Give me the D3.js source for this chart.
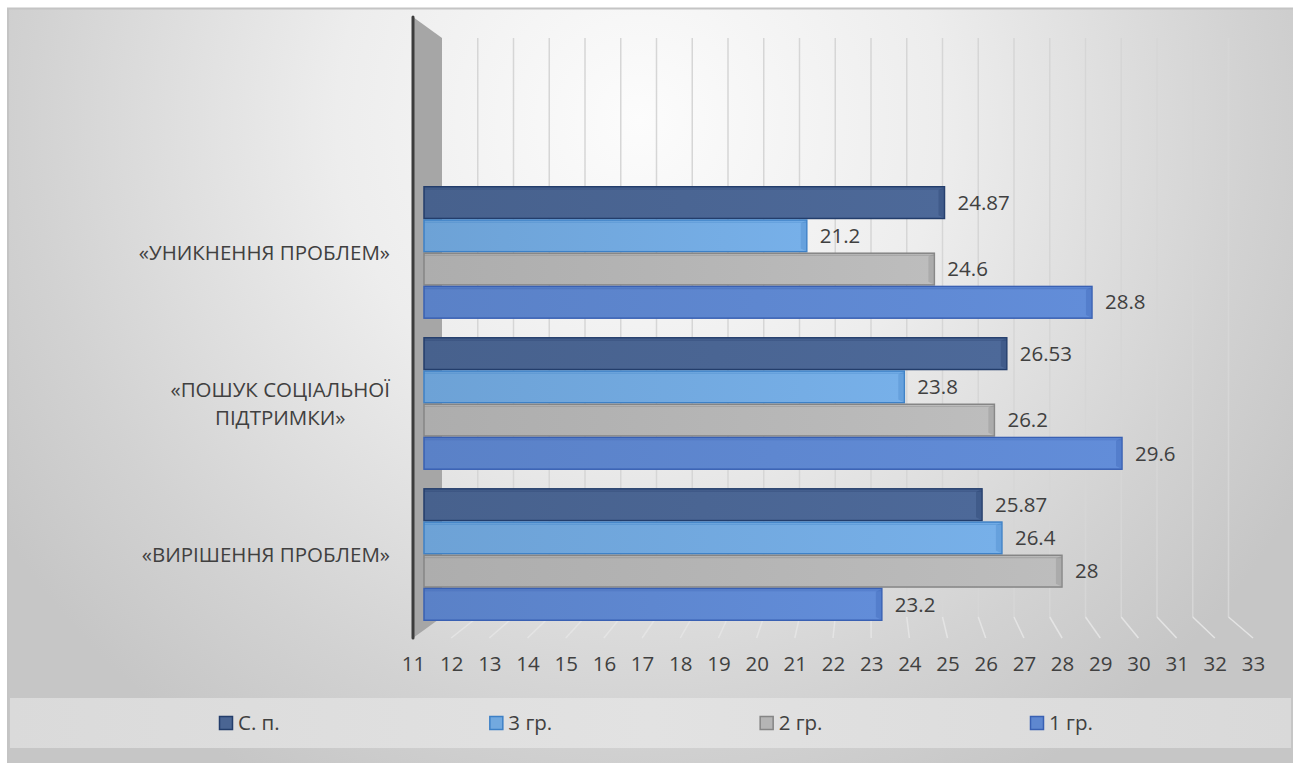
<!DOCTYPE html>
<html>
<head>
<meta charset="utf-8">
<script src="https://cdn.jsdelivr.net/npm/d3@7"></script>
<style>
  html, body { margin: 0; padding: 0; background: #ffffff; }
  svg { display: block; font-family: "Open Sans", "Noto Sans", sans-serif; }
</style>
</head>
<body>
<svg id="chart" width="1299" height="763"></svg>
<script>
// Coping strategy scales by group
const categories = ["«УНИКНЕННЯ ПРОБЛЕМ»", "«ПОШУК СОЦІАЛЬНОЇ ПІДТРИМКИ»", "«ВИРІШЕННЯ ПРОБЛЕМ»"];
const categoryLines = [["«УНИКНЕННЯ ПРОБЛЕМ»"], ["«ПОШУК СОЦІАЛЬНОЇ", "ПІДТРИМКИ»"], ["«ВИРІШЕННЯ ПРОБЛЕМ»"]];
const seriesNames = ["С. п.", "3 гр.", "2 гр.", "1 гр."];
const valuesSP = [24.87, 26.53, 25.87];
const values3 = [21.2, 23.8, 26.4];
const values2 = [24.6, 26.2, 28];
const values1 = [28.8, 29.6, 23.2];
const tickValues = d3.range(11, 34);

const seriesValues = [valuesSP, values3, values2, values1];
const fills = ["#4a6593", "#72a9df", "#b5b5b5", "#5e87d0"];
const sides = ["#334d7c", "#5592d2", "#9a9a9a", "#4670c0"];
const strokes = ["#233d6b", "#3d80c6", "#858585", "#3960b3"];
const FS = 20.5;

const svg = d3.select("#chart");
const W = 1299, H = 763;
const defs = svg.append("defs");

// background
const bg = defs.append("radialGradient").attr("id", "bg")
  .attr("gradientUnits", "userSpaceOnUse")
  .attr("cx", 640).attr("cy", 120).attr("r", 760);
bg.append("stop").attr("offset", "0%").attr("stop-color", "#fcfcfc");
bg.append("stop").attr("offset", "40%").attr("stop-color", "#ededed");
bg.append("stop").attr("offset", "80%").attr("stop-color", "#d2d2d2");
bg.append("stop").attr("offset", "100%").attr("stop-color", "#c6c6c6");
svg.append("rect").attr("x", 8).attr("y", 8).attr("width", 1285).attr("height", H - 8)
  .attr("fill", "url(#bg)");
svg.append("path").attr("d", `M8,${H} V8.5 H1293`).attr("fill", "none")
  .attr("stroke", "#c4c4c4").attr("stroke-width", 2);

// 3D frame geometry: front plane, back plane, bar plane
const frontTop = 17, frontBottom = 638, backTop = 38, backBottom = 617;
const xFront = d3.scaleLinear().domain([11, 33]).range([413, 1253]);
const xBack = d3.scaleLinear().domain([11, 33]).range([442, 1228.5]);
const xBar = d3.scaleLinear().domain([11, 29.6]).range([424, 1122]);

// side wall
svg.append("path")
  .attr("d", `M${xFront(11)},${frontTop} L${xBack(11)},${backTop} L${xBack(11)},${backBottom} L${xFront(11)},${frontBottom} Z`)
  .attr("fill", "#a6a6a6");

// gridlines: back wall verticals and floor diagonals
const grid = svg.append("g");
grid.selectAll("line.back").data(tickValues.slice(1)).join("line")
  .attr("class", "back")
  .attr("x1", d => xBack(d)).attr("x2", d => xBack(d))
  .attr("y1", backTop).attr("y2", backBottom)
  .attr("stroke", "#d6d6d6").attr("stroke-width", 1.5);
grid.selectAll("line.floor").data(tickValues.slice(1)).join("line")
  .attr("class", "floor")
  .attr("x1", d => xBack(d)).attr("x2", d => xFront(d))
  .attr("y1", backBottom).attr("y2", frontBottom)
  .attr("stroke", "#e4e4e4").attr("stroke-width", 1.5);

// wall edge
svg.append("line")
  .attr("x1", xFront(11)).attr("x2", xFront(11))
  .attr("y1", frontTop).attr("y2", frontBottom)
  .attr("stroke", "#3c3c3c").attr("stroke-width", 3).attr("stroke-linecap", "round");

// bars
const yCat = d3.scaleBand().domain(categories).range([186, 621]).paddingInner(0.12).paddingOuter(0);
const ySer = d3.scaleBand().domain(seriesNames).range([0, yCat.bandwidth()]);

const rows = [];
categories.forEach((c, ci) => {
  seriesNames.forEach((s, si) => {
    rows.push({ cat: c, ser: s, si, value: seriesValues[si][ci] });
  });
});

fills.forEach((f, i) => {
  const g = defs.append("linearGradient").attr("id", "bar" + i)
    .attr("x1", 0).attr("y1", 0).attr("x2", 1).attr("y2", 0);
  g.append("stop").attr("offset", "0%").attr("stop-color", d3.color(f).darker(0.12));
  g.append("stop").attr("offset", "100%").attr("stop-color", d3.color(f).brighter(0.12));
});

const bars = svg.append("g").selectAll("g").data(rows).join("g")
  .attr("transform", d => `translate(0,${yCat(d.cat) + ySer(d.ser)})`);
const bh = ySer.bandwidth();
bars.append("rect")
  .attr("x", xBar(11)).attr("y", 0.75)
  .attr("width", d => xBar(d.value) - xBar(11)).attr("height", bh - 1.5)
  .attr("fill", d => `url(#bar${d.si})`)
  .attr("stroke", d => strokes[d.si]).attr("stroke-width", 1.5);
// end cap of each bar
bars.append("path")
  .attr("d", d => {
    const x1 = xBar(d.value);
    return `M${x1 - 6},${4} L${x1},${1} L${x1},${bh - 1} L${x1 - 6},${bh - 4} Z`;
  })
  .attr("fill", d => sides[d.si]).attr("opacity", 0.5);
// top edge
bars.append("line")
  .attr("x1", xBar(11)).attr("x2", d => xBar(d.value))
  .attr("y1", 3).attr("y2", 3)
  .attr("stroke", d => strokes[d.si]).attr("stroke-opacity", 0.35).attr("stroke-width", 1.2);

// value labels
bars.append("text")
  .attr("x", d => xBar(d.value) + 13).attr("y", bh / 2)
  .attr("dy", "0.35em")
  .attr("fill", "#404040").attr("font-size", FS)
  .text(d => d.value);

// category labels (multi-line labels centred within their block)
const catG = svg.append("g");
categories.forEach((c, ci) => {
  const lines = categoryLines[ci];
  const cy = yCat(c) + yCat.bandwidth() / 2;
  const lh = 28;
  const t = catG.append("text").attr("fill", "#404040").attr("font-size", FS)
    .attr("text-anchor", "middle");
  const spans = lines.map((ln, li) => t.append("tspan")
    .attr("y", cy + (li - (lines.length - 1) / 2) * lh).attr("dy", "0.35em").text(ln));
  const maxW = d3.max(spans, s => s.node().getComputedTextLength());
  spans.forEach(s => s.attr("x", 390 - maxW / 2));
});

// value axis
const axis = d3.axisBottom(xFront).tickValues(tickValues).tickSize(0).tickPadding(0).tickFormat(d3.format("d"));
const axG = svg.append("g").attr("transform", `translate(0,656)`).call(axis);
axG.select(".domain").remove();
axG.selectAll("text").attr("font-size", FS).attr("fill", "#404040")
  .attr("font-family", "'Open Sans', 'Noto Sans', sans-serif");

// legend band
const lgGrad = defs.append("linearGradient").attr("id", "lg")
  .attr("x1", 0).attr("y1", 0).attr("x2", 1).attr("y2", 0);
lgGrad.append("stop").attr("offset", "0%").attr("stop-color", "#dadada");
lgGrad.append("stop").attr("offset", "50%").attr("stop-color", "#e2e2e2");
lgGrad.append("stop").attr("offset", "100%").attr("stop-color", "#d9d9d9");
svg.append("rect").attr("x", 10).attr("y", 698).attr("width", 1281).attr("height", 50)
  .attr("fill", "url(#lg)");

const legendX = d3.scalePoint().domain(seriesNames).range([219, 1030]);
const lg = svg.append("g").selectAll("g").data(seriesNames).join("g")
  .attr("transform", d => `translate(${legendX(d)},723)`);
lg.append("rect").attr("x", 0.5).attr("y", -6.5).attr("width", 13).attr("height", 13)
  .attr("fill", (d, i) => fills[i]).attr("stroke", (d, i) => strokes[i]).attr("stroke-width", 1.5);
lg.append("text").attr("x", 19).attr("y", 0).attr("dy", "0.35em")
  .attr("fill", "#404040").attr("font-size", FS).text(d => d);
</script>
</body>
</html>
